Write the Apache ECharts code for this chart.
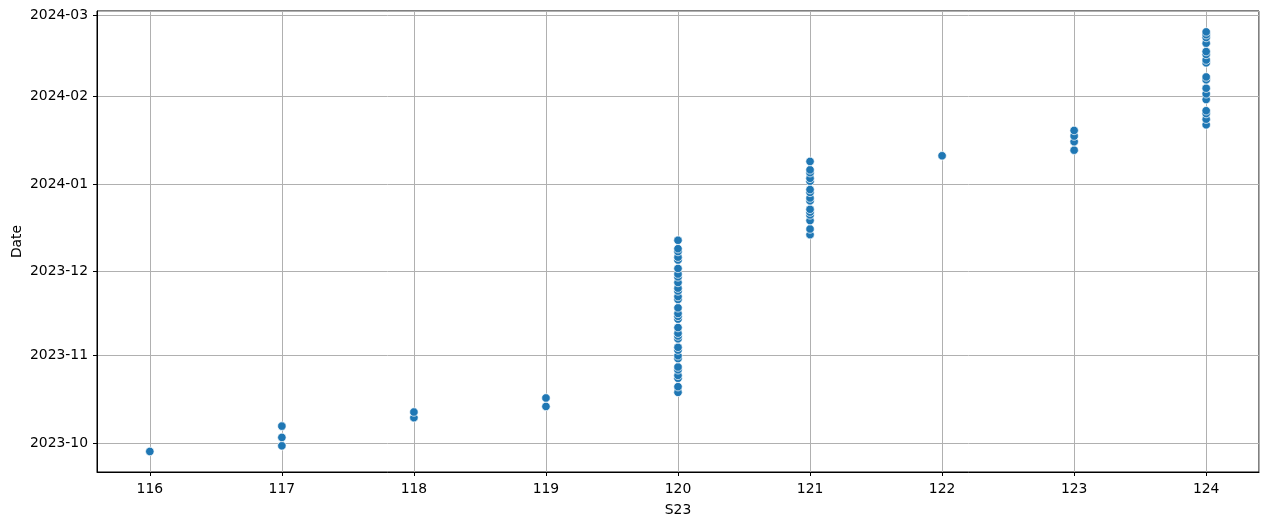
<!DOCTYPE html>
<html>
<head>
<meta charset="utf-8">
<script src="https://cdn.jsdelivr.net/npm/echarts@6/dist/echarts.min.js"></script>
<style>
html,body{margin:0;padding:0;background:#fff;}
#chart{width:1269px;height:526px;}
</style>
</head>
<body>
<div id="chart"></div>
<script>
// S23 values and the matching dates (one point each)
const s23_116 = ['2023-09-28'];
const s23_117 = ['2023-09-30', '2023-10-03', '2023-10-07'];
const s23_118 = ['2023-10-10', '2023-10-12'];
const s23_119 = ['2023-10-14', '2023-10-17'];
const s23_120 = ['2023-10-19', '2023-10-21', '2023-10-24', '2023-10-25', '2023-10-27', '2023-10-28',
  '2023-10-31', '2023-11-01', '2023-11-03', '2023-11-04', '2023-11-07', '2023-11-08', '2023-11-09',
  '2023-11-11', '2023-11-14', '2023-11-15', '2023-11-16', '2023-11-18', '2023-11-21', '2023-11-22',
  '2023-11-24', '2023-11-25', '2023-11-27', '2023-11-29', '2023-11-30', '2023-12-02', '2023-12-05',
  '2023-12-06', '2023-12-08', '2023-12-09', '2023-12-12'];
const s23_121 = ['2023-12-14', '2023-12-16', '2023-12-19', '2023-12-21', '2023-12-22', '2023-12-23',
  '2023-12-26', '2023-12-27', '2023-12-29', '2023-12-30', '2024-01-02', '2024-01-03', '2024-01-05',
  '2024-01-06', '2024-01-09'];
const s23_122 = ['2024-01-11'];
const s23_123 = ['2024-01-13', '2024-01-16', '2024-01-18', '2024-01-20'];
const s23_124 = ['2024-01-22', '2024-01-24', '2024-01-26', '2024-01-27', '2024-01-31', '2024-02-02',
  '2024-02-04', '2024-02-07', '2024-02-08', '2024-02-13', '2024-02-14', '2024-02-16', '2024-02-17',
  '2024-02-20', '2024-02-22', '2024-02-23', '2024-02-24'];

const groups = [
  [116, s23_116], [117, s23_117], [118, s23_118], [119, s23_119], [120, s23_120],
  [121, s23_121], [122, s23_122], [123, s23_123], [124, s23_124]
];

const points = [];
groups.forEach(([x, ds]) => ds.forEach(d => points.push([x, new Date(d + 'T00:00:00Z').getTime()])));

const font = 'DejaVu Sans';
const fs = 13.9;
const chart = echarts.init(document.getElementById('chart'));
chart.setOption({
  useUTC: true,
  animation: false,
  backgroundColor: '#fff',
  grid: { left: 97, right: 10, top: 11, bottom: 54, show: true, borderColor: '#000', borderWidth: 1,
    containLabel: false, outerBoundsMode: 'none' },
  xAxis: {
    type: 'value',
    min: 115.6,
    max: 124.4,
    splitNumber: 9,
    name: 'S23',
    nameLocation: 'middle',
    nameGap: 31,
    nameMoveOverlap: false,
    nameTextStyle: { fontFamily: font, fontSize: fs, color: '#000' },
    axisLine: { show: true, lineStyle: { color: '#000', width: 1 } },
    axisTick: { show: true, length: 4, lineStyle: { color: '#000' } },
    axisLabel: { fontFamily: font, fontSize: fs, color: '#000', margin: 10, showMinLabel: false, showMaxLabel: false },
    splitLine: { show: true, lineStyle: { color: '#b0b0b0', width: 1 } }
  },
  yAxis: {
    type: 'time',
    min: Date.UTC(2023, 8, 20, 17),
    max: Date.UTC(2024, 2, 2, 10),
    minInterval: 27 * 86400000,
    maxInterval: 32 * 86400000,
    name: 'Date',
    nameLocation: 'middle',
    nameGap: 73,
    nameMoveOverlap: false,
    nameTextStyle: { fontFamily: font, fontSize: fs, color: '#000' },
    axisLine: { show: true, lineStyle: { color: '#000', width: 1 } },
    axisTick: { show: true, length: 4, lineStyle: { color: '#000' } },
    axisLabel: { fontFamily: font, fontSize: fs, color: '#000', margin: 9, formatter: '{yyyy}-{MM}', showMinLabel: false, showMaxLabel: false },
    splitLine: { show: true, lineStyle: { color: '#b0b0b0', width: 1 } }
  },
  series: [{
    type: 'scatter',
    data: points,
    symbolSize: 8.5,
    itemStyle: { color: '#1f77b4', borderColor: '#ffffff', borderWidth: 0.7, opacity: 1 }
  }]
});
</script>
</body>
</html>
